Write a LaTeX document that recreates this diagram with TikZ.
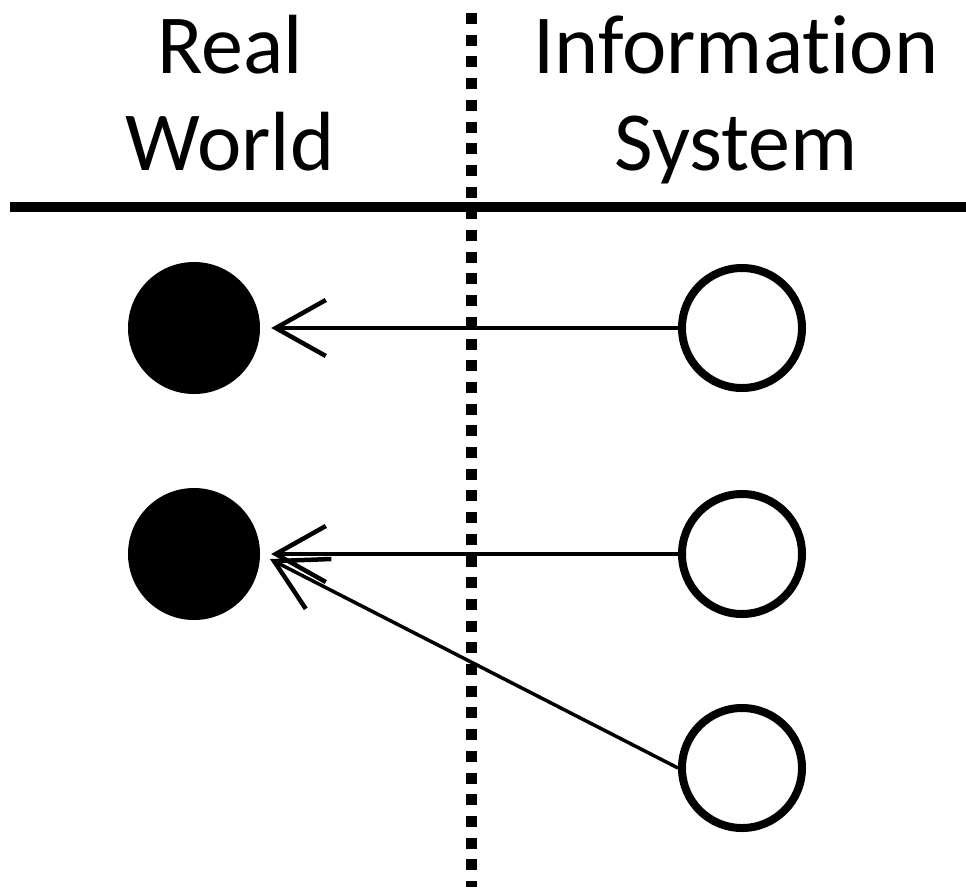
\documentclass[tikz,border=0pt]{standalone}
\usepackage{fontspec}
\setmainfont{Carlito}[Ligatures={NoCommon}]
\usetikzlibrary{arrows.meta}
\begin{document}
\begin{tikzpicture}[x=1pt,y=-1pt,
  realpt/.style={circle,fill=black,inner sep=0pt,minimum size=132pt},
  infopt/.style={circle,draw=black,line width=8pt,fill=white,inner sep=0pt,minimum size=120pt},
  maparrow/.style={line width=3.5pt,-{Straight Barb[length=50pt,width=56pt,line width=4.5pt]},shorten >=11pt},
  heading/.style={font=\fontsize{84}{100}\selectfont,anchor=base,inner sep=0pt}]
\useasboundingbox (0,0) rectangle (966,887);
% divider lines
\coordinate (vtop) at (471.5,13);
\coordinate (vbot) at (471.5,887);
\draw[line width=11pt,dash pattern=on 11pt off 10.7pt] (vtop) -- (vbot);
\coordinate (hl) at (10,207);
\coordinate (hr) at (966,207);
\draw[line width=10pt] (hl) -- (hr);
% headings
\node[heading] (real) at (230,73) {Real};
\node[heading] (world) at (230,170) {World};
\node[heading] (info) at (736,73) {Information};
\node[heading] (sys) at (736,170) {System};
% points
\node[realpt] (f1) at (194,328) {};
\node[realpt] (f2) at (194,554) {};
\node[infopt] (o1) at (742,328) {};
\node[infopt] (o2) at (742,554) {};
\node[infopt] (o3) at (742,768) {};
% mappings
\draw[maparrow] (o1.west) -- (f1.east);
\draw[maparrow] (o2.west) -- (f2.east);
\draw[maparrow] (o3.west) -- (f2.east);
\end{tikzpicture}
\end{document}
